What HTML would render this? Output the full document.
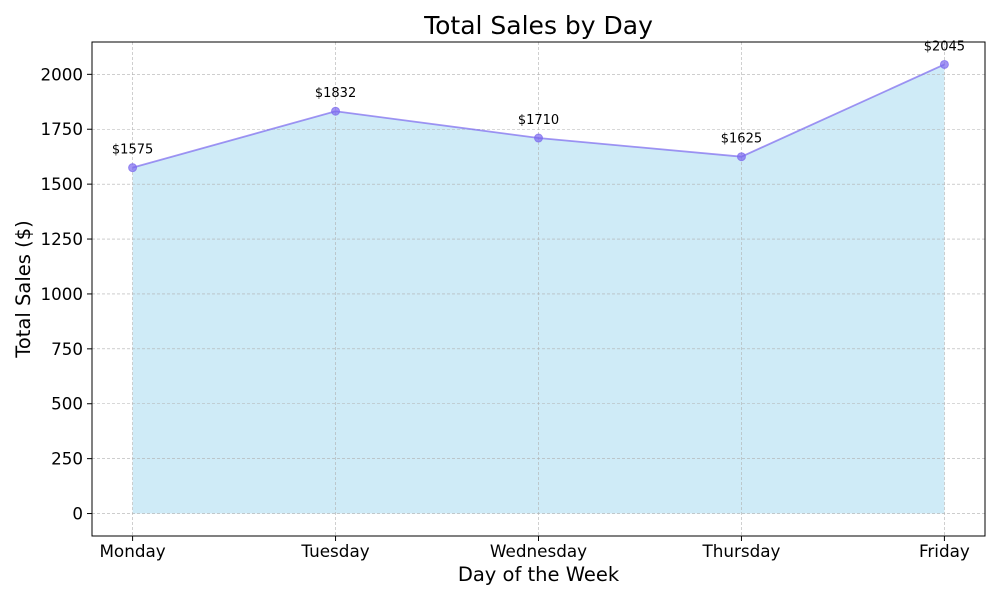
<!DOCTYPE html>
<html><head><meta charset="utf-8"><style>body{margin:0;background:#fff}svg{font-family:"DejaVu Sans","Liberation Sans",sans-serif}</style></head>
<body>
<svg id="chart" width="1000" height="600"></svg>
<script>
const categories=["Monday","Tuesday","Wednesday","Thursday","Friday"];
const sales=[1575,1832,1710,1625,2045];
const yTicks=[0,250,500,750,1000,1250,1500,1750,2000];
const L=92,R=985,T=42,B=536;
const ymin=-102.25,ymax=2147.25;
const xs=i=>L+(i+0.2)/(categories.length-1+0.4)*(R-L);
const ys=v=>B-(v-ymin)/(ymax-ymin)*(B-T);
const svg=document.getElementById('chart');
const NS='http://www.w3.org/2000/svg';
function mk(t,a,p){const e=document.createElementNS(NS,t);for(const k in a)e.setAttribute(k,a[k]);(p||svg).appendChild(e);return e;}
let d=`M${xs(0)},${ys(0)} `+sales.map((v,i)=>`L${xs(i)},${ys(v)}`).join(' ')+` L${xs(sales.length-1)},${ys(0)} Z`;
const area=mk('path',{d:d,fill:'#87ceeb','fill-opacity':0.4});


yTicks.forEach(t=>{
 const g=mk('line',{x1:L,x2:R,y1:ys(t),y2:ys(t),stroke:'#b0b0b0','stroke-width':0.6,'stroke-dasharray':'3,2'});
 
 
 const tk=mk('line',{x1:L-5,x2:L,y1:ys(t),y2:ys(t),stroke:'#000'});
 
 
 const tx=mk('text',{x:L-9,y:ys(t)+6,'text-anchor':'end','font-size':16.7});
 tx.textContent=t;
 
 
});
categories.forEach((c,i)=>{
 const g=mk('line',{x1:xs(i),x2:xs(i),y1:T,y2:B,stroke:'#b0b0b0','stroke-width':0.6,'stroke-dasharray':'3,2'});
 
 
 const tk=mk('line',{x1:xs(i),x2:xs(i),y1:B,y2:B+5,stroke:'#000'});
 
 
 const tx=mk('text',{x:xs(i),y:B+21,'text-anchor':'middle','font-size':16.8});
 tx.textContent=c;
 
 
});
const line=mk('polyline',{points:sales.map((v,i)=>xs(i)+','+ys(v)).join(' '),fill:'none',stroke:'#7b68ee','stroke-opacity':0.7,'stroke-width':1.8});


sales.forEach((v,i)=>{
 const p=mk('circle',{cx:xs(i),cy:ys(v),r:4,fill:'#7b68ee','fill-opacity':0.7,stroke:'#7b68ee','stroke-opacity':0.7});
 
 
 const l=mk('text',{x:xs(i),y:ys(v)-14,'text-anchor':'middle','font-size':13});
 l.textContent='$'+v;
 
 
});
const fr=mk('rect',{x:L,y:T,width:R-L,height:B-T,fill:'none',stroke:'#000','stroke-width':1});


const ti=mk('text',{x:(L+R)/2,y:34,'text-anchor':'middle','font-size':25});
ti.textContent='Total Sales by Day';


const xt=mk('text',{x:(L+R)/2,y:581,'text-anchor':'middle','font-size':19.5});
xt.textContent='Day of the Week';


const yt=mk('text',{x:0,y:0,'text-anchor':'middle','font-size':19.5,transform:`translate(30,${(T+B)/2}) rotate(-90)`});
yt.textContent='Total Sales ($)';


</script>
</body></html>
